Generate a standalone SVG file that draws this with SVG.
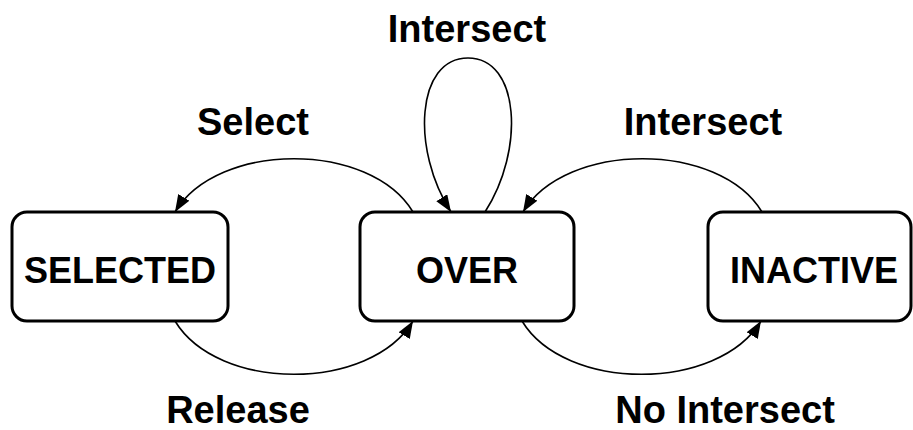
<svg xmlns="http://www.w3.org/2000/svg" width="913" height="430" viewBox="0 0 913 430">
<style>
.box{fill:#fff;stroke:#000;stroke-width:3}
.lbl{font-family:"Liberation Sans",Arial,sans-serif;font-weight:bold;font-size:36px;text-anchor:middle;fill:#000}
.elbl{font-family:"Liberation Sans",Arial,sans-serif;font-weight:bold;font-size:38px;text-anchor:middle;fill:#000}
.edge{fill:none;stroke:#000;stroke-width:1.6}
</style>
<defs>
<marker id="ah" markerUnits="userSpaceOnUse" markerWidth="18" markerHeight="14" refX="17" refY="6.5" orient="auto">
<path d="M0,0 L17,6.5 L0,13 z" fill="#000"/>
</marker>
</defs>
<g id="connectors">
<path class="edge" d="M413,212 C370,141 218,141 175,212" marker-end="url(#ah)"/>
<path class="edge" d="M175,321 C218,392 370,392 413,321" marker-end="url(#ah)"/>
<path class="edge" d="M762,212 C719,141 566,141 523,212" marker-end="url(#ah)"/>
<path class="edge" d="M522,321 C565,392 718,392 761,321" marker-end="url(#ah)"/>
<path class="edge" d="M485,212 C525,150 520,58 468,58 C416,58 411,150 451,212" marker-end="url(#ah)"/>
<text class="elbl" x="467" y="42">Intersect</text>
<text class="elbl" x="253" y="135">Select</text>
<text class="elbl" x="703" y="135">Intersect</text>
<text class="elbl" x="238" y="423">Release</text>
<text class="elbl" x="725" y="423">No Intersect</text>
</g>
<g id="selected">
<rect class="box" x="12" y="212" width="216" height="109" rx="15"/>
<text class="lbl" x="120" y="283">SELECTED</text>
</g>
<g id="over">
<rect class="box" x="360" y="212" width="214" height="109" rx="15"/>
<text class="lbl" x="467" y="283">OVER</text>
</g>
<g id="inactive">
<rect class="box" x="708" y="212" width="203" height="109" rx="15"/>
<text class="lbl" x="814" y="283">INACTIVE</text>
</g>
</svg>
